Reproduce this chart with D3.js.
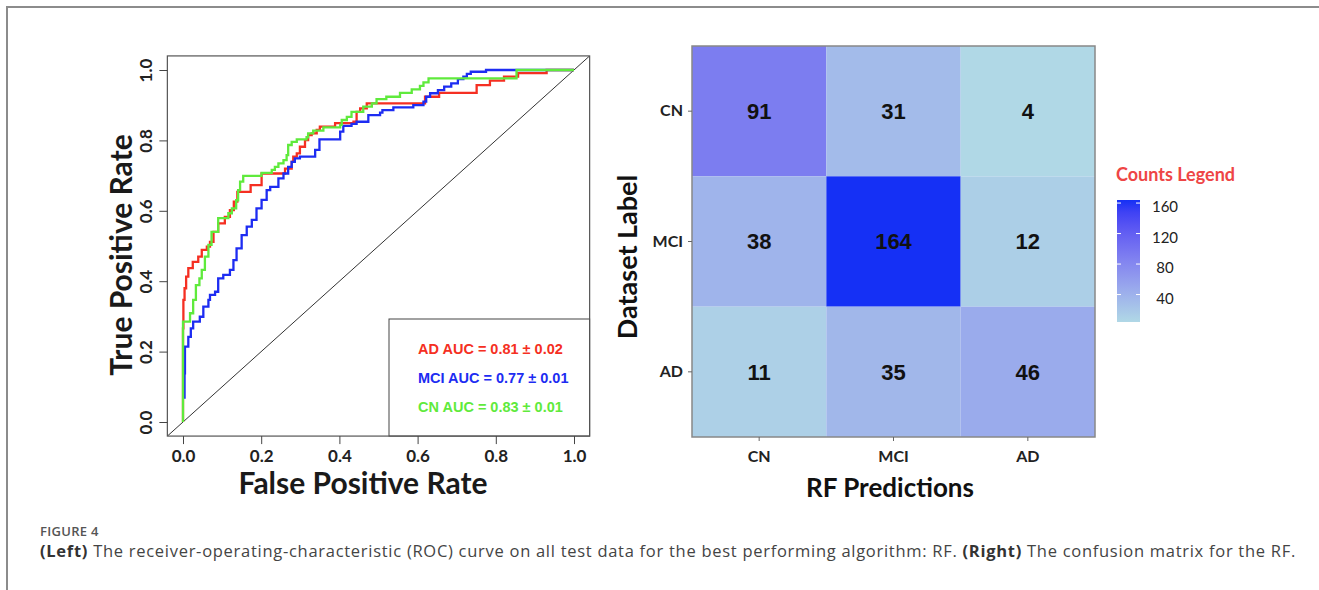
<!DOCTYPE html>
<html>
<head>
<meta charset="utf-8">
<script src="https://cdn.jsdelivr.net/npm/d3@7"></script>
<style>
  body { margin: 0; background: #fff; }
  svg { display: block; }
</style>
</head>
<body>
<svg width="1319" height="590"></svg>
<script>
// ROC curves as [false positive rate, true positive rate] corners
const rocAD = [[0,0],[0,0.266],[0.001,0.347],[0.004,0.38],[0.008,0.413],[0.0136,0.437],[0.025,0.455],[0.039,0.47],[0.048,0.489],[0.061,0.498],[0.069,0.512],[0.078,0.54],[0.09,0.564],[0.107,0.583],[0.12,0.602],[0.13,0.626],[0.139,0.654],[0.173,0.673],[0.201,0.706],[0.261,0.72],[0.278,0.739],[0.282,0.754],[0.291,0.763],[0.299,0.782],[0.312,0.801],[0.32,0.815],[0.329,0.82],[0.342,0.83],[0.35,0.839],[0.389,0.849],[0.436,0.853],[0.444,0.881],[0.453,0.891],[0.47,0.905],[0.619,0.924],[0.655,0.935],[0.751,0.957],[0.785,0.97],[0.821,0.981],[0.857,0.991],[0.93,1],[1,1]];
const rocMCI = [[0.004,0.066],[0.004,0.138],[0.005,0.214],[0.0136,0.242],[0.02,0.266],[0.026,0.285],[0.043,0.299],[0.052,0.328],[0.065,0.347],[0.069,0.361],[0.082,0.37],[0.09,0.408],[0.103,0.418],[0.12,0.432],[0.129,0.46],[0.137,0.493],[0.15,0.531],[0.163,0.555],[0.176,0.574],[0.188,0.607],[0.201,0.631],[0.214,0.659],[0.223,0.668],[0.244,0.692],[0.257,0.706],[0.269,0.725],[0.278,0.739],[0.286,0.749],[0.299,0.754],[0.338,0.773],[0.349,0.803],[0.402,0.825],[0.41,0.841],[0.431,0.847],[0.444,0.853],[0.474,0.872],[0.504,0.879],[0.51,0.886],[0.538,0.894],[0.589,0.9],[0.615,0.91],[0.622,0.924],[0.632,0.934],[0.652,0.943],[0.668,0.953],[0.686,0.962],[0.703,0.974],[0.717,0.981],[0.726,0.989],[0.736,0.995],[0.775,1],[1,1]];
const rocCN = [[0,0],[0,0.285],[0.018,0.309],[0.026,0.347],[0.033,0.389],[0.042,0.408],[0.048,0.432],[0.056,0.47],[0.065,0.503],[0.073,0.54],[0.09,0.579],[0.116,0.593],[0.125,0.607],[0.136,0.63],[0.141,0.659],[0.146,0.683],[0.154,0.699],[0.201,0.708],[0.227,0.716],[0.235,0.725],[0.244,0.735],[0.257,0.744],[0.265,0.758],[0.269,0.787],[0.278,0.796],[0.291,0.803],[0.316,0.809],[0.32,0.82],[0.333,0.828],[0.359,0.837],[0.402,0.844],[0.406,0.858],[0.419,0.867],[0.431,0.881],[0.461,0.896],[0.483,0.905],[0.495,0.917],[0.52,0.924],[0.555,0.935],[0.585,0.945],[0.606,0.955],[0.615,0.965],[0.628,0.976],[0.853,1],[1,1]];

const rocLabels = ["AD AUC = 0.81 \u00b1 0.02", "MCI AUC = 0.77 \u00b1 0.01", "CN AUC = 0.83 \u00b1 0.01"];
const rocColors = ["#f52f22", "#1d2cf2", "#5fea3c"];
const rocTicks = [0, 0.2, 0.4, 0.6, 0.8, 1.0];

// confusion matrix
const classes = ["CN", "MCI", "AD"];
const counts = [
  [91, 31, 4],
  [38, 164, 12],
  [11, 35, 46]
];
const legendTicks = [40, 80, 120, 160];

const svg = d3.select("svg");

// outer frame of the figure
svg.append("path")
  .attr("d", "M7,590 V7 H1319")
  .attr("fill", "none")
  .attr("stroke", "#8c8c8c")
  .attr("stroke-width", 2);

// ---------- ROC panel ----------
const x = d3.scaleLinear().domain([0, 1]).range([183, 574]);
const y = d3.scaleLinear().domain([0, 1]).range([422, 70]);
const lo = -0.04, hi = 1.04;

const roc = svg.append("g");

roc.append("clipPath").attr("id", "rocclip")
  .append("rect")
  .attr("x", x(lo)).attr("y", y(hi))
  .attr("width", x(hi) - x(lo)).attr("height", y(lo) - y(hi));

roc.append("line")
  .attr("x1", x(lo)).attr("y1", y(lo))
  .attr("x2", x(hi)).attr("y2", y(hi))
  .attr("stroke", "#333").attr("stroke-width", 1)
  .attr("clip-path", "url(#rocclip)");

const line = d3.line()
  .x(d => x(d[0]))
  .y(d => y(d[1]))
  .curve(d3.curveStepAfter);

[rocAD, rocMCI, rocCN].forEach((pts, i) => {
  roc.append("path")
    .datum(pts)
    .attr("d", line)
    .attr("fill", "none")
    .attr("stroke", rocColors[i])
    .attr("stroke-width", 2.3);
});

// legend box
const lgX = 389, lgY = 319;
roc.append("rect")
  .attr("x", lgX).attr("y", lgY)
  .attr("width", x(hi) - lgX).attr("height", y(lo) - lgY)
  .attr("fill", "#fff").attr("stroke", "#444").attr("stroke-width", 1);

roc.selectAll(".lgtext")
  .data(rocLabels)
  .enter().append("text")
  .attr("x", 418)
  .attr("y", (d, i) => 354 + i * 29)
  .attr("fill", (d, i) => rocColors[i])
  .style("font-family", "'Liberation Sans', Arial, sans-serif")
  .style("font-weight", "bold")
  .style("font-size", "14.5px")
  .text(d => d);

// plot box
roc.append("rect")
  .attr("x", x(lo)).attr("y", y(hi))
  .attr("width", x(hi) - x(lo)).attr("height", y(lo) - y(hi))
  .attr("fill", "none").attr("stroke", "#555").attr("stroke-width", 1.2);

const xAxis = d3.axisBottom(x).tickValues(rocTicks).tickFormat(d3.format(".1f")).tickSize(8).tickSizeOuter(0);
const gx = roc.append("g").attr("transform", `translate(0,${y(lo)})`).call(xAxis);
gx.select(".domain").remove();
gx.selectAll("line").attr("stroke", "#444");
gx.selectAll("text")
  .attr("y", 14)
  .style("font-family", "Lato, sans-serif")
  .style("font-weight", "700")
  .style("font-size", "17px")
  .attr("fill", "#222");

const yAxis = d3.axisLeft(y).tickValues(rocTicks).tickFormat(d3.format(".1f")).tickSize(8).tickSizeOuter(0);
const gy = roc.append("g").attr("transform", `translate(${x(lo)},0)`).call(yAxis);
gy.select(".domain").remove();
gy.selectAll("line").attr("stroke", "#444");
gy.selectAll("text")
  .attr("x", null).attr("dy", null)
  .attr("transform", "translate(-15,0) rotate(-90)")
  .attr("text-anchor", "middle")
  .style("font-family", "Lato, sans-serif")
  .style("font-weight", "700")
  .style("font-size", "17px")
  .attr("fill", "#222");

roc.append("text")
  .attr("x", 363).attr("y", 494)
  .attr("text-anchor", "middle")
  .style("font-family", "Lato, sans-serif")
  .style("font-weight", "700")
  .style("font-size", "30px")
  .attr("fill", "#1a1a1a")
  .text("False Positive Rate");

roc.append("text")
  .attr("transform", "translate(132,255) rotate(-90)")
  .attr("text-anchor", "middle")
  .style("font-family", "Lato, sans-serif")
  .style("font-weight", "700")
  .style("font-size", "30px")
  .attr("fill", "#1a1a1a")
  .text("True Positive Rate");

// ---------- confusion matrix panel ----------
const cx = d3.scaleBand().domain(classes).range([692, 1095]);
const cy = d3.scaleBand().domain(classes).range([46, 437]);
const flat = counts.flatMap((row, i) => row.map((v, j) => ({ truth: classes[i], pred: classes[j], v })));
const color = d3.scaleLinear()
  .domain(d3.extent(flat, d => d.v))
  .range(["#b0d8e6", "#1530f5"])
  .interpolate(d3.interpolateLab);

const cm = svg.append("g");

cm.selectAll(".cell")
  .data(flat)
  .enter().append("rect")
  .attr("x", d => cx(d.pred))
  .attr("y", d => cy(d.truth))
  .attr("width", cx.bandwidth())
  .attr("height", cy.bandwidth())
  .attr("fill", d => color(d.v));

cm.selectAll(".num")
  .data(flat)
  .enter().append("text")
  .attr("x", d => cx(d.pred) + cx.bandwidth() / 2)
  .attr("y", d => cy(d.truth) + cy.bandwidth() / 2)
  .attr("dy", "0.36em")
  .attr("text-anchor", "middle")
  .style("font-family", "'Liberation Sans', Arial, sans-serif")
  .style("font-weight", "bold")
  .style("font-size", "22px")
  .attr("fill", "#111")
  .text(d => d.v);

cm.append("rect")
  .attr("x", 692).attr("y", 46)
  .attr("width", 403).attr("height", 391)
  .attr("fill", "none").attr("stroke", "#888").attr("stroke-width", 1.5);

const cxAxis = d3.axisBottom(cx).tickSize(4).tickPadding(10).tickSizeOuter(0);
const gcx = cm.append("g").attr("transform", "translate(0,437)").call(cxAxis);
gcx.select(".domain").remove();
gcx.selectAll("line").attr("stroke", "#666");
gcx.selectAll("text")
  .style("font-family", "Lato, sans-serif")
  .style("font-weight", "700")
  .style("font-size", "16px")
  .attr("fill", "#222");

const cyAxis = d3.axisLeft(cy).tickSize(4).tickPadding(5).tickSizeOuter(0);
const gcy = cm.append("g").attr("transform", "translate(692,0)").call(cyAxis);
gcy.select(".domain").remove();
gcy.selectAll("line").attr("stroke", "#666");
gcy.selectAll("text")
  .style("font-family", "Lato, sans-serif")
  .style("font-weight", "700")
  .style("font-size", "16px")
  .attr("fill", "#222");

cm.append("text")
  .attr("x", 890).attr("y", 497)
  .attr("text-anchor", "middle")
  .style("font-family", "Lato, sans-serif")
  .style("font-weight", "700")
  .style("font-size", "26px")
  .attr("fill", "#111")
  .text("RF Predictions");

cm.append("text")
  .attr("transform", "translate(637,257) rotate(-90)")
  .attr("text-anchor", "middle")
  .style("font-family", "Lato, sans-serif")
  .style("font-weight", "700")
  .style("font-size", "27px")
  .attr("fill", "#111")
  .text("Dataset Label");

// colour bar legend
const legScale = d3.scaleLinear().domain(color.domain()).range([322, 200]);
const grad = svg.append("defs").append("linearGradient")
  .attr("id", "cbar").attr("x1", 0).attr("y1", 1).attr("x2", 0).attr("y2", 0);
d3.range(0, 1.0001, 0.1).forEach(t => {
  const v = color.domain()[0] + t * (color.domain()[1] - color.domain()[0]);
  grad.append("stop").attr("offset", t).attr("stop-color", color(v));
});

const leg = svg.append("g");
leg.append("text")
  .attr("x", 1116).attr("y", 181)
  .style("font-family", "Lato, sans-serif")
  .style("font-weight", "700")
  .style("font-size", "18px")
  .attr("fill", "#ee4545")
  .text("Counts Legend");

leg.append("rect")
  .attr("x", 1117).attr("y", legScale.range()[1])
  .attr("width", 23).attr("height", legScale.range()[0] - legScale.range()[1])
  .attr("fill", "url(#cbar)");

leg.selectAll(".tk")
  .data(legendTicks)
  .enter().append("g")
  .each(function (d) {
    const g = d3.select(this);
    g.append("line").attr("x1", 1117).attr("x2", 1121).attr("y1", legScale(d)).attr("y2", legScale(d))
      .attr("stroke", "#fff").attr("stroke-width", 1);
    g.append("line").attr("x1", 1136).attr("x2", 1140).attr("y1", legScale(d)).attr("y2", legScale(d))
      .attr("stroke", "#fff").attr("stroke-width", 1);
  });

leg.selectAll(".tl")
  .data(legendTicks)
  .enter().append("text")
  .attr("x", 1165)
  .attr("y", d => legScale(d) + 4)
  .attr("dy", "0.35em")
  .attr("text-anchor", "middle")
  .style("font-family", "Lato, sans-serif")
  .style("font-size", "15px")
  .attr("fill", "#222")
  .text(d => d);

// ---------- caption ----------
svg.append("text")
  .attr("x", 40).attr("y", 536)
  .style("font-family", "'Open Sans', sans-serif")
  .style("font-weight", "600")
  .style("font-size", "13px")
  .style("letter-spacing", "0.3px")
  .attr("fill", "#555")
  .text("FIGURE 4");

const cap = svg.append("text")
  .attr("x", 40).attr("y", 557)
  .style("font-family", "'Open Sans', sans-serif")
  .style("font-size", "16.5px")
  .attr("fill", "#444");
cap.append("tspan").style("font-weight", "700").attr("fill", "#333").text("(Left)");
cap.append("tspan").text(" The receiver-operating-characteristic (ROC) curve on all test data for the best performing algorithm: RF. ");
cap.append("tspan").style("font-weight", "700").attr("fill", "#333").text("(Right)");
cap.append("tspan").text(" The confusion matrix for the RF.");

// stretch the caption to the width it has in the figure
const capLen = cap.node().getComputedTextLength();
const capChars = cap.text().length;
cap.style("letter-spacing", ((1256 - capLen) / capChars) + "px");
</script>
</body>
</html>
